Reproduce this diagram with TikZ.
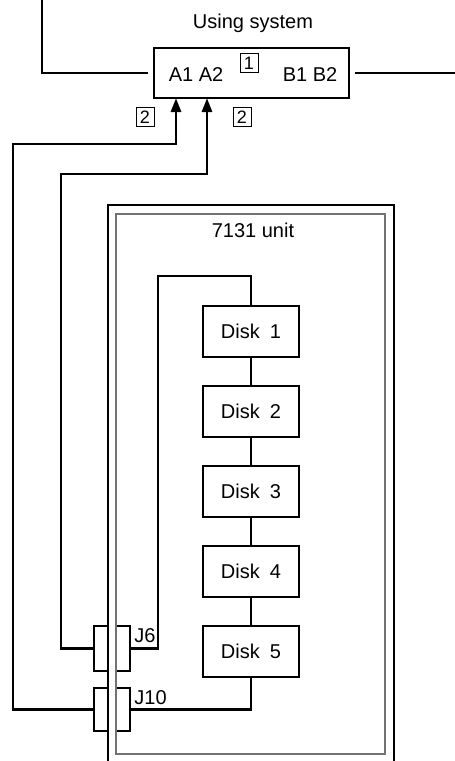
\documentclass[tikz,border=0pt]{standalone}
\usepackage{fontspec}
\setmainfont{Liberation Sans}
\usetikzlibrary{arrows.meta, positioning}
\tikzset{
  disk/.style={rectangle, draw=black, line width=1pt, minimum width=48pt, minimum height=25.5pt, align=center},
  sysbox/.style={rectangle, draw=black, line width=1pt, minimum width=97.5pt, minimum height=25pt},
  plug/.style={rectangle, draw=black, line width=1pt, minimum width=18pt, minimum height=22.5pt},
  tag/.style={rectangle, draw=black, line width=0.5pt, font=\small, inner sep=0.5pt, minimum width=9pt, minimum height=9.5pt},
  cable/.style={line width=1.4pt},
  arrow/.style={-{Triangle[length=7pt, width=5pt]}, cable},
  link/.style={line width=1pt}
}

\begin{document}
\begin{tikzpicture}[x=0.5pt, y=-0.5pt]
  \useasboundingbox (0,0) rectangle (455,761);
  % using system
  \node (title) at (253,23) {Using system};
  \node[sysbox] (sys) at (251.5,73) {};
  \node (aport) at (196,75) {A1 A2};
  \node (bport) at (310,75) {B1 B2};
  \node[tag] (t1) at (249,63) {1};
  \node[tag] (t2a) at (145,117) {2};
  \node[tag] (t2b) at (242,117) {2};
  \coordinate (pA1) at (176,98);
  \coordinate (pA2) at (207,98);
  \coordinate (busL) at (42,0);
  \coordinate (busR) at (455,73);
  \draw[link] (busL) |- ([xshift=-2.5pt]sys.west);
  \draw[link] ([xshift=2.5pt]sys.east) -- (busR);
  % 7131 unit
  \node[plug] (j6) at (112,648.5) {};
  \node[plug, minimum height=21.5pt] (j10) at (112,709.5) {};
  \fill[white] (108.8,600) rectangle (115.2,761);
  \draw[line width=0.6pt] (108,761) |- (394,205) -- (394,761);
  \draw[black!55, line width=1pt] (116,214) rectangle (385,754);
  \node (unit) at (253,230) {7131 unit};
  \node[anchor=west, inner sep=0pt] (l6) at (134,636) {J6};
  \node[anchor=west, inner sep=0pt] (l10) at (134,698) {J10};
  \node[disk] (d1) at (251,331.5) {Disk\enspace 1};
  \node[disk, below=13.5pt of d1] (d2) {Disk\enspace 2};
  \node[disk, below=13.5pt of d2] (d3) {Disk\enspace 3};
  \node[disk, below=13.5pt of d3] (d4) {Disk\enspace 4};
  \node[disk, below=13.5pt of d4] (d5) {Disk\enspace 5};
  \foreach \a/\b in {d1/d2, d2/d3, d3/d4, d4/d5}
    \draw[link] (\a) -- (\b);
  % cables
  \draw[cable] (d1.north) |- (158,276) |- (j6.east);
  \draw[cable] (d5.south) |- (j10.east);
  \draw[arrow] (j10.west) -| (13,144) -| (pA1);
  \draw[arrow] (j6.west) -| (61,174) -| (pA2);
\end{tikzpicture}
\end{document}
